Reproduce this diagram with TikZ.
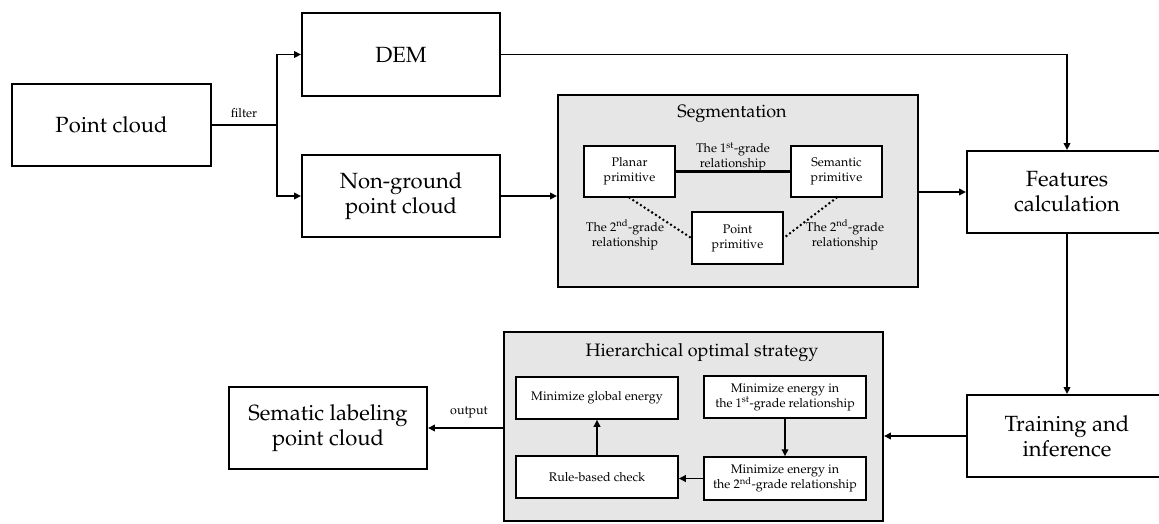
\documentclass[tikz,border=0pt]{standalone}
\usepackage[T1]{fontenc}
\usepackage{mathpazo}
\usetikzlibrary{arrows.meta,calc}
\definecolor{panelgray}{HTML}{E6E6E6}
\tikzset{
  bigbox/.style={draw=black,line width=1.9pt,fill=white,align=center,font=\fontsize{22}{25}\selectfont,inner sep=0pt},
  smallbox/.style={draw=black,line width=1.5pt,fill=white,align=center,font=\fontsize{12.5}{15}\selectfont,inner sep=0pt},
  panel/.style={draw=black,line width=1.9pt,fill=panelgray,inner sep=0pt},
  conn/.style={line width=1.8pt,-{Triangle[length=7pt,width=6.5pt]}},
  plainconn/.style={line width=1.8pt},
  dotconn/.style={line width=2.8pt,line cap=round,dash pattern=on 0pt off 4.5pt},
  lbl/.style={align=center,font=\fontsize{12.5}{15}\selectfont,inner sep=0pt},
  ttl/.style={font=\fontsize{18}{21}\selectfont,inner sep=0pt}
}
\begin{document}
\begin{tikzpicture}[x=1pt,y=-1pt]
\useasboundingbox (0,0) rectangle (1159,523);
% panels
\node[panel,minimum width=360pt,minimum height=192pt] (seg) at (738,191) {};
\node[panel,minimum width=379pt,minimum height=189pt] (hier) at (693.5,426.5) {};
\node[ttl] (segt) at (732,114) {Segmentation};
\node[ttl] (hiert) at (702,353) {Hierarchical optimal strategy};
% big boxes
\node[bigbox,minimum width=199pt,minimum height=82pt] (pc) at (111.5,125) {Point cloud};
\node[bigbox,minimum width=198pt,minimum height=83pt] (dem) at (401,54.5) {DEM};
\node[bigbox,minimum width=198pt,minimum height=82pt] (ng) at (401,196) {Non-ground\\point cloud};
\node[bigbox,minimum width=200pt,minimum height=82pt] (fc) at (1067,192) {Features\\calculation};
\node[bigbox,minimum width=200pt,minimum height=82pt] (tr) at (1067,436) {Training and\\inference};
\node[bigbox,minimum width=198pt,minimum height=82pt] (out) at (328,428) {Sematic labeling\\point cloud};
% segmentation content
\node[smallbox,minimum width=91pt,minimum height=51pt] (plan) at (629.5,171.5) {Planar\\primitive};
\node[smallbox,minimum width=91pt,minimum height=51pt] (sem) at (836.5,171.5) {Semantic\\primitive};
\node[smallbox,minimum width=91pt,minimum height=52pt] (pp) at (737.5,238) {Point\\primitive};
% hierarchical content
\node[smallbox,minimum width=162pt,minimum height=42pt] (glob) at (597,398) {Minimize global energy};
\node[smallbox,minimum width=162pt,minimum height=42pt] (rule) at (597,477) {Rule-based check};
\node[smallbox,minimum width=162pt,minimum height=42pt] (m1) at (785,397) {Minimize energy in\\the 1\textsuperscript{st}-grade relationship};
\node[smallbox,minimum width=162pt,minimum height=43pt] (m2) at (785,478.5) {Minimize energy in\\the 2\textsuperscript{nd}-grade relationship};
% labels
\node[lbl] (lf) at (244,113) {filter};
\node[lbl] (lo) at (469,412) {output};
\node[lbl] (l1) at (733,157) {The 1\textsuperscript{st}-grade\\relationship};
\node[lbl] (l2a) at (625,235) {The 2\textsuperscript{nd}-grade\\relationship};
\node[lbl] (l2b) at (845,235) {The 2\textsuperscript{nd}-grade\\relationship};
% connectors
\coordinate (br) at (277,125);
\draw[plainconn] (pc.east) -- (br);
\draw[conn] (br) |- (dem.west);
\draw[conn] (br) |- (ng.west);
\draw[conn] (dem.east) -| (fc.north);
\draw[conn] (ng.east) -- (ng.east -| seg.west);
\draw[conn] (seg.east |- fc.west) -- (fc.west);
\draw[conn] (fc.south) -- (tr.north);
\draw[conn] (tr.west) -- (tr.west -| hier.east);
\draw[conn] (hier.west |- out.east) -- (out.east);
\draw[conn] (m1.south) -- (m2.north);
\draw[conn] (m2.west) -- (m2.west -| rule.east);
\draw[conn] (rule.north) -- (glob.south);
\draw[line width=2.6pt] (plan.east) -- (sem.west);
\draw[dotconn] (plan.south) -- (pp.west);
\draw[dotconn] (sem.south) -- (pp.east);
\end{tikzpicture}
\end{document}
